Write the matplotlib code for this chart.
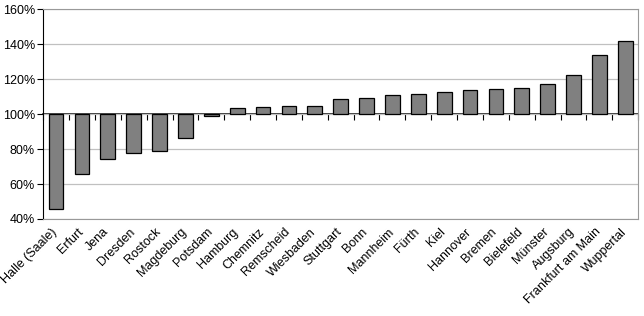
import matplotlib.pyplot as plt
import matplotlib.transforms as mtransforms
import numpy as np

plt.rcParams['font.family'] = ['Liberation Sans', 'DejaVu Sans']

# cities and their values in percent (100% = reference level)
cities = ['Halle (Saale)', 'Erfurt', 'Jena', 'Dresden', 'Rostock', 'Magdeburg',
          'Potsdam', 'Hamburg', 'Chemnitz', 'Remscheid', 'Wiesbaden', 'Stuttgart',
          'Bonn', 'Mannheim', 'Fürth', 'Kiel', 'Hannover', 'Bremen', 'Bielefeld',
          'Münster', 'Augsburg', 'Frankfurt am Main', 'Wuppertal']
values = [45.8, 65.6, 74.4, 77.7, 78.7, 86.3,
          98.8, 103.8, 104.4, 104.8, 104.9, 108.5,
          109.1, 111.3, 111.8, 112.8, 114.1, 114.7, 115.2,
          117.1, 122.5, 133.7, 142.1]
yticks = [40, 60, 80, 100, 120, 140, 160]

base = 100
x = np.arange(len(cities))
vals = np.array(values)

fig = plt.figure(figsize=(6.44, 3.16), dpi=100)
ax = fig.add_axes([0.067, 0.307, 0.924, 0.663])

ax.bar(x, vals - base, bottom=base, width=0.57, color='#808080',
       edgecolor='black', linewidth=0.9, zorder=3)

ax.set_xlim(-0.5, len(cities) - 0.5)
ax.set_ylim(yticks[0], yticks[-1])
ax.set_yticks(yticks)
ax.set_yticklabels([f'{t}%' for t in yticks], fontsize=9)
ax.yaxis.grid(True, color='#c0c0c0', linewidth=0.9, zorder=0)

for side in ['top', 'right', 'bottom']:
    ax.spines[side].set_color('#999999')
ax.spines['left'].set_color('black')
ax.tick_params(axis='y', length=4, width=0.8, color='black', pad=2)

ax.set_xticks(x)
ax.set_xticklabels(cities, rotation=45, ha='right', va='top',
                   rotation_mode='anchor', fontsize=9)
ax.tick_params(axis='x', length=0, pad=5)
shift = mtransforms.ScaledTranslation(-5 / 100, 0, fig.dpi_scale_trans)
for lab in ax.get_xticklabels():
    lab.set_transform(lab.get_transform() + shift)

# axis line at 100% with ticks between categories
frac = (base - yticks[0]) / (yticks[-1] - yticks[0])
sec = ax.secondary_xaxis(frac)
for s in sec.spines.values():
    s.set_visible(False)
sec.spines['bottom'].set_visible(True)
sec.spines['bottom'].set_color('black')
sec.spines['bottom'].set_linewidth(1.1)
sec.set_xticks(np.arange(len(cities) + 1) - 0.5)
sec.set_xticklabels([])
sec.tick_params(axis='x', length=4, width=0.8, color='black', direction='in')

fig.savefig('out.png', dpi=100)
